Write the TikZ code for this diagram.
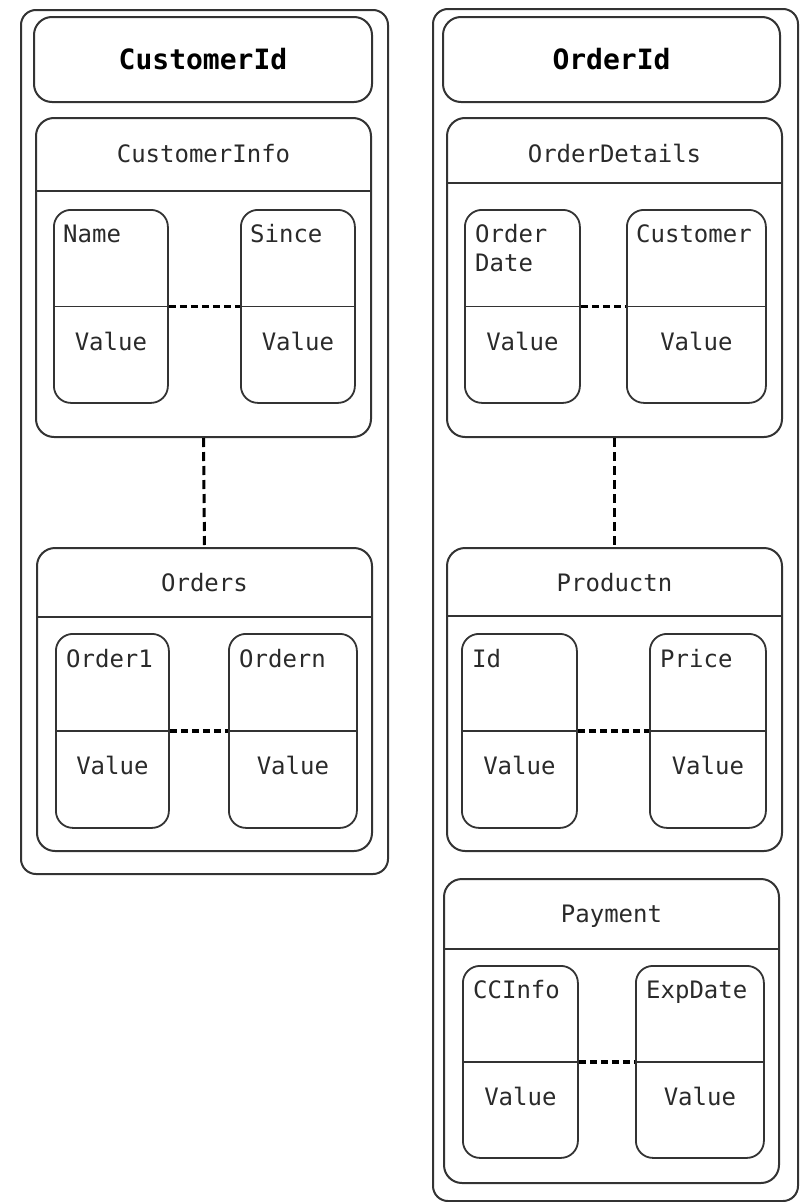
\documentclass[tikz,border=0pt]{standalone}
\usepackage{fontspec}
\newfontfamily\monofam{DejaVu Sans Mono}
\definecolor{linec}{HTML}{333333}
\definecolor{txtc}{HTML}{2A2A2A}
\tikzset{
  outerbox/.style={draw=linec, line width=2pt, rounded corners=15pt, anchor=north west, inner sep=0pt},
  subbox/.style={draw=linec, line width=2pt, rounded corners=18pt, anchor=north west, inner sep=0pt},
  fieldbox/.style={draw=linec, line width=1.8pt, rounded corners=17pt, anchor=north west, inner sep=0pt},
  titletext/.style={font=\monofam\bfseries\fontsize{28}{32}\selectfont, text=black, inner sep=0pt},
  headtext/.style={font=\monofam\fontsize{24}{29}\selectfont, text=txtc, inner sep=0pt, anchor=base},
  keytext/.style={font=\monofam\fontsize{24}{29}\selectfont, text=txtc, inner sep=0pt, anchor=base west, align=left},
  valtext/.style={font=\monofam\fontsize{24}{29}\selectfont, text=txtc, inner sep=0pt, anchor=base},
  hdash/.style={draw=black, line width=3.5pt, dash pattern=on 7pt off 4pt},
  vdash/.style={draw=black, line width=3pt, dash pattern=on 9pt off 5pt},
  divline/.style={draw=linec, line width=1.8pt}
}
\newcommand{\boxat}[6]{% style, name, x1, y1, x2, y2
  \node[#1, minimum width={(#5-#3)*1pt}, minimum height={(#6-#4)*1pt}] (#2) at (#3,#4) {};}
\begin{document}
\begin{tikzpicture}[x=1pt,y=-1pt]
\useasboundingbox (0,0) rectangle (804,1202);
% ---------- left column ----------
\boxat{outerbox}{lout}{20}{9}{387}{873}
\boxat{subbox}{cid}{33}{16}{371}{101}
\node[titletext] (cidt) at (cid.center) {CustomerId};
\boxat{subbox}{cinfo}{35}{117}{370}{436}
\draw[divline] ([yshift=-74pt]cinfo.north west) -- ([yshift=-74pt]cinfo.north east);
\node[headtext] (cinfot) at ([yshift=-45pt]cinfo.north) {CustomerInfo};
\boxat{fieldbox}{fname}{53}{209}{167}{402}
\boxat{fieldbox}{fsince}{240}{209}{354}{402}
\draw[divline] (fname.west) -- (fname.east);
\draw[divline] (fsince.west) -- (fsince.east);
\node[keytext] (fnamek) at ([xshift=10pt,yshift=-33pt]fname.north west) {Name};
\node[keytext] (fsincek) at ([xshift=10pt,yshift=-33pt]fsince.north west) {Since};
\node[valtext] (fnamev) at ([yshift=-44pt]fname.center) {Value};
\node[valtext] (fsincev) at ([yshift=-44pt]fsince.center) {Value};
\draw[hdash] (fname.east) -- (fsince.west);
\boxat{subbox}{orders}{36}{547}{371}{850}
\draw[divline] ([yshift=-70pt]orders.north west) -- ([yshift=-70pt]orders.north east);
\node[headtext] (orderst) at ([yshift=-44pt]orders.north) {Orders};
\boxat{fieldbox}{ford1}{55}{633}{168}{827}
\boxat{fieldbox}{fordn}{228}{633}{356}{827}
\draw[divline] (ford1.west) -- (ford1.east);
\draw[divline] (fordn.west) -- (fordn.east);
\node[keytext] (ford1k) at ([xshift=11pt,yshift=-34pt]ford1.north west) {Order1};
\node[keytext] (fordnk) at ([xshift=11pt,yshift=-34pt]fordn.north west) {Ordern};
\node[valtext] (ford1v) at ([yshift=-44pt]ford1.center) {Value};
\node[valtext] (fordnv) at ([yshift=-44pt]fordn.center) {Value};
\draw[hdash] (ford1.east) -- (fordn.west);
\draw[vdash] (cinfo.south) -- (orders.north);
% ---------- right column ----------
\boxat{outerbox}{rout}{432}{8}{797}{1200}
\boxat{subbox}{oid}{442}{16}{779}{101}
\node[titletext] (oidt) at (oid.center) {OrderId};
\boxat{subbox}{odet}{446}{117}{781}{436}
\draw[divline] ([yshift=-66pt]odet.north west) -- ([yshift=-66pt]odet.north east);
\node[headtext] (odett) at ([yshift=-45pt]odet.north) {OrderDetails};
\boxat{fieldbox}{fodate}{464}{209}{579}{402}
\boxat{fieldbox}{fcust}{626}{209}{765}{402}
\draw[divline] (fodate.west) -- (fodate.east);
\draw[divline] (fcust.west) -- (fcust.east);
\node[keytext] (fodatek) at ([xshift=11pt,yshift=-62pt]fodate.north west) {Order\\Date};
\node[keytext] (fcustk) at ([xshift=10pt,yshift=-33pt]fcust.north west) {Customer};
\node[valtext] (fodatev) at ([yshift=-44pt]fodate.center) {Value};
\node[valtext] (fcustv) at ([yshift=-44pt]fcust.center) {Value};
\draw[hdash] (fodate.east) -- (fcust.west);
\boxat{subbox}{prod}{446}{547}{781}{850}
\draw[divline] ([yshift=-69pt]prod.north west) -- ([yshift=-69pt]prod.north east);
\node[headtext] (prodt) at ([yshift=-44pt]prod.north) {Productn};
\boxat{fieldbox}{fid}{461}{633}{576}{827}
\boxat{fieldbox}{fprice}{649}{633}{765}{827}
\draw[divline] (fid.west) -- (fid.east);
\draw[divline] (fprice.west) -- (fprice.east);
\node[keytext] (fidk) at ([xshift=11pt,yshift=-34pt]fid.north west) {Id};
\node[keytext] (fpricek) at ([xshift=11pt,yshift=-34pt]fprice.north west) {Price};
\node[valtext] (fidv) at ([yshift=-44pt]fid.center) {Value};
\node[valtext] (fpricev) at ([yshift=-44pt]fprice.center) {Value};
\draw[hdash] (fid.east) -- (fprice.west);
\draw[vdash] (odet.south) -- (prod.north);
\boxat{subbox}{pay}{443}{878}{778}{1182}
\draw[divline] ([yshift=-71pt]pay.north west) -- ([yshift=-71pt]pay.north east);
\node[headtext] (payt) at ([yshift=-44pt]pay.north) {Payment};
\boxat{fieldbox}{fcc}{462}{965}{577}{1157}
\boxat{fieldbox}{fexp}{635}{965}{763}{1157}
\draw[divline] (fcc.west) -- (fcc.east);
\draw[divline] (fexp.west) -- (fexp.east);
\node[keytext] (fcck) at ([xshift=11pt,yshift=-33pt]fcc.north west) {CCInfo};
\node[keytext] (fexpk) at ([xshift=11pt,yshift=-33pt]fexp.north west) {ExpDate};
\node[valtext] (fccv) at ([yshift=-44pt]fcc.center) {Value};
\node[valtext] (fexpv) at ([yshift=-44pt]fexp.center) {Value};
\draw[hdash] (fcc.east) -- (fexp.west);
\end{tikzpicture}
\end{document}
